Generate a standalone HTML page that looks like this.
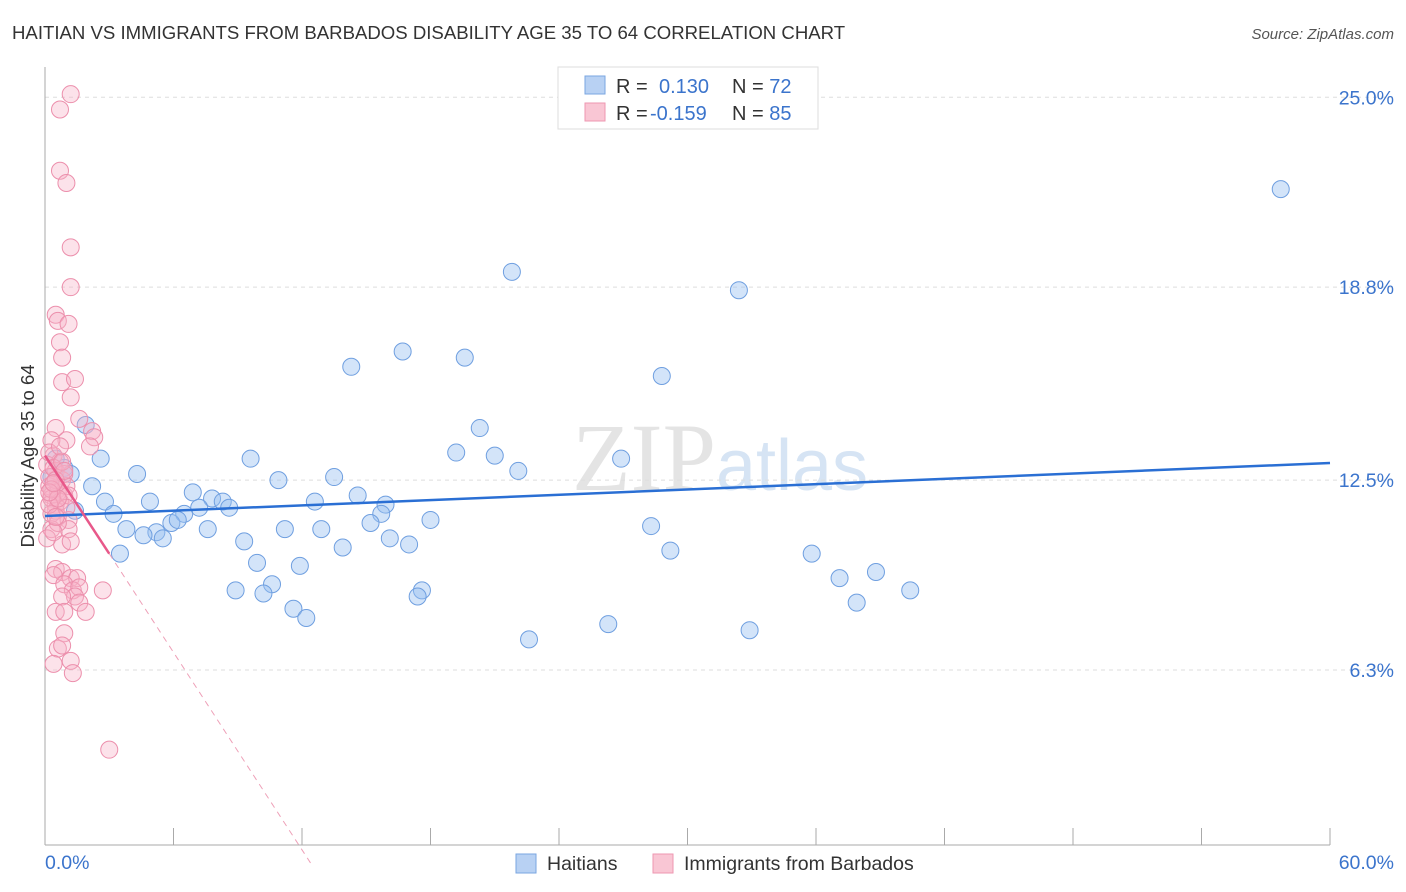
<!DOCTYPE html>
<html><head><meta charset="utf-8"><style>
body{margin:0;background:#fff;font-family:"Liberation Sans",sans-serif;}
svg{display:block}
</style></head><body>
<svg id="c" width="1406" height="892" xmlns="http://www.w3.org/2000/svg">
<text x="12" y="39" font-size="18.6" fill="#333">HAITIAN VS IMMIGRANTS FROM BARBADOS DISABILITY AGE 35 TO 64 CORRELATION CHART</text>
<text x="1394" y="39" font-size="15" fill="#555" font-style="italic" text-anchor="end">Source: ZipAtlas.com</text>
<text x="720" y="490" font-size="96" fill="#e4e4e4" text-anchor="middle" font-family="Liberation Serif,serif">ZIP<tspan fill="#d6e4f4" font-family="Liberation Sans,sans-serif" font-size="72">atlas</tspan></text>
<g id="grid"></g>
<g id="pts"></g>
<g id="lines"></g>
<text transform="translate(34,456) rotate(-90)" font-size="18.5" fill="#333" text-anchor="middle">Disability Age 35 to 64</text>
<g>
<rect x="558" y="67" width="260" height="62" fill="#fff" stroke="#ddd"/>
<rect x="585" y="76" width="20" height="18" fill="#b8d1f3" stroke="#7aa6e0"/>
<rect x="585" y="103" width="20" height="18" fill="#f9c6d4" stroke="#ee97b1"/>
<text x="616" y="93" font-size="20" fill="#333">R = <tspan x="659" fill="#3b74cc">0.130</tspan><tspan x="732" fill="#333">N = </tspan><tspan fill="#3b74cc">72</tspan></text>
<text x="616" y="120" font-size="20" fill="#333">R = <tspan x="650" fill="#3b74cc">-0.159</tspan><tspan x="732" fill="#333">N = </tspan><tspan fill="#3b74cc">85</tspan></text>
</g>
<g>
<rect x="516" y="854" width="20" height="19" fill="#b8d1f3" stroke="#7aa6e0"/>
<text x="547" y="870" font-size="19.5" fill="#333">Haitians</text>
<rect x="653" y="854" width="20" height="19" fill="#f9c6d4" stroke="#ee97b1"/>
<text x="684" y="870" font-size="19.5" fill="#333">Immigrants from Barbados</text>
</g>
<text x="45" y="869" font-size="19.5" fill="#3b74cc">0.0%</text>
<text x="1394" y="869" font-size="19.5" fill="#3b74cc" text-anchor="end">60.0%</text>
</svg>
<script>
const yTicks=[25,18.8,12.5,6.3];
const yTickLabels=["25.0%","18.8%","12.5%","6.3%"];
const xTickVals=[0,6,12,18,24,30,36,42,48,54,60];
const blueX=[57.7,21.8,32.4,16.7,14.3,19.6,28.8,1.9,20.3,19.2,21.0,2.6,9.6,26.9,0.9,0.5,4.3,22.1,1.2,10.9,13.5,2.2,6.9,14.6,2.8,4.9,7.8,8.3,12.6,15.9,1.4,3.2,8.6,7.2,15.7,6.5,18.0,5.9,6.2,15.2,28.3,3.8,7.6,11.2,12.9,5.2,4.6,5.5,16.1,9.3,13.9,17.0,3.5,29.2,35.8,9.9,11.9,38.8,37.1,10.6,8.9,17.6,40.4,10.2,17.4,37.9,11.6,12.2,26.3,32.9,22.6,0.3];
const blueY=[22.0,19.3,18.7,16.7,16.2,16.5,15.9,14.3,14.2,13.4,13.3,13.2,13.2,13.2,12.9,13.2,12.7,12.8,12.7,12.5,12.6,12.3,12.1,12.0,11.8,11.8,11.9,11.8,11.8,11.7,11.5,11.4,11.6,11.6,11.4,11.4,11.2,11.1,11.2,11.1,11.0,10.9,10.9,10.9,10.9,10.8,10.7,10.6,10.6,10.5,10.3,10.4,10.1,10.2,10.1,9.8,9.7,9.5,9.3,9.1,8.9,8.9,8.9,8.8,8.7,8.5,8.3,8.0,7.8,7.6,7.3,12.6];
const pinkX=[1.2,0.7,0.7,1.0,1.2,1.2,0.5,0.6,1.1,0.7,0.8,0.8,1.4,1.2,1.6,0.5,2.2,2.3,2.1,1.0,0.3,0.4,0.7,0.1,0.5,0.8,0.2,0.6,0.3,0.9,0.5,0.6,1.1,0.3,1.1,0.8,0.5,0.8,1.2,0.4,1.5,0.9,1.3,1.6,1.4,0.8,1.6,1.9,2.7,0.5,0.9,0.9,0.6,0.8,0.4,1.2,1.3,3.0,0.2,0.4,0.6,0.3,0.5,0.9,0.2,0.4,1.0,0.7,0.3,0.6,0.1,0.8,1.1,0.5,0.2,0.4,0.7,1.0,0.3,0.6,0.9,0.2,0.5,1.2,0.4];
const pinkY=[25.1,24.6,22.6,22.2,20.1,18.8,17.9,17.7,17.6,17.0,16.5,15.7,15.8,15.2,14.5,14.2,14.1,13.9,13.6,13.8,13.8,13.3,13.1,13.0,12.8,12.5,12.3,12.2,12.0,12.0,11.7,11.3,11.2,10.9,10.9,10.4,9.6,9.5,9.3,9.4,9.3,9.1,8.9,9.0,8.7,8.7,8.5,8.2,8.9,8.2,8.2,7.5,7.0,7.1,6.5,6.6,6.2,3.7,12.6,12.4,12.1,11.9,11.5,12.7,13.4,12.9,12.3,11.8,11.4,11.1,10.6,13.1,12.0,12.5,11.7,10.8,13.6,11.6,12.2,11.9,12.8,12.1,11.3,10.5,12.4];
const blueTrend=[[0,11.33],[60,13.06]];
const pinkTrendSolid=[[0,13.3],[3,10.1]];
const pinkTrendDash=[[3,10.1],[12.4,0]];
const NS="http://www.w3.org/2000/svg";
const X=v=>45+v*(1285/60);
const Y=v=>863-v*30.63;
function mk(tag,attrs,parent){const e=document.createElementNS(NS,tag);for(const k in attrs)e.setAttribute(k,attrs[k]);parent.appendChild(e);return e;}
const grid=document.getElementById('grid');
yTicks.forEach((t,i)=>{
  const l=mk('line',{x1:45,x2:1395,y1:Y(t),y2:Y(t),stroke:'#ddd','stroke-dasharray':'4,4'},grid);
  
  
  const tx=mk('text',{x:1394,y:Y(t)+7,'font-size':19.5,fill:'#3b74cc','text-anchor':'end'},grid);
  tx.textContent=yTickLabels[i];
  
  
});
const ax=mk('line',{x1:45,x2:45,y1:67,y2:845,stroke:'#aaa'},grid);


const bx=mk('line',{x1:45,x2:1330,y1:845,y2:845,stroke:'#aaa'},grid);


xTickVals.forEach(t=>{
  const l=mk('line',{x1:X(t),x2:X(t),y1:828,y2:845,stroke:'#aaa'},grid);
  
  
});
const pts=document.getElementById('pts');
blueX.forEach((v,i)=>{
  const c=mk('circle',{cx:X(v),cy:Y(blueY[i]),r:8.5,fill:'rgba(150,190,240,0.42)',stroke:'#6f9fe0','stroke-width':1},pts);
  
  
});
pinkX.forEach((v,i)=>{
  const c=mk('circle',{cx:X(v),cy:Y(pinkY[i]),r:8.5,fill:'rgba(248,180,200,0.38)',stroke:'#ec8fac','stroke-width':1},pts);
  
  
});
const lines=document.getElementById('lines');
const b=mk('line',{x1:X(blueTrend[0][0]),y1:Y(blueTrend[0][1]),x2:X(blueTrend[1][0]),y2:Y(blueTrend[1][1]),stroke:'#2a6fd4','stroke-width':2.5},lines);


const p=mk('line',{x1:X(pinkTrendSolid[0][0]),y1:Y(pinkTrendSolid[0][1]),x2:X(pinkTrendSolid[1][0]),y2:Y(pinkTrendSolid[1][1]),stroke:'#e8588a','stroke-width':2.5},lines);


const pd=mk('line',{x1:X(pinkTrendDash[0][0]),y1:Y(pinkTrendDash[0][1]),x2:X(pinkTrendDash[1][0]),y2:Y(pinkTrendDash[1][1]),stroke:'#eea0b8','stroke-width':1,'stroke-dasharray':'6,5'},lines);


</script>
</body></html>
